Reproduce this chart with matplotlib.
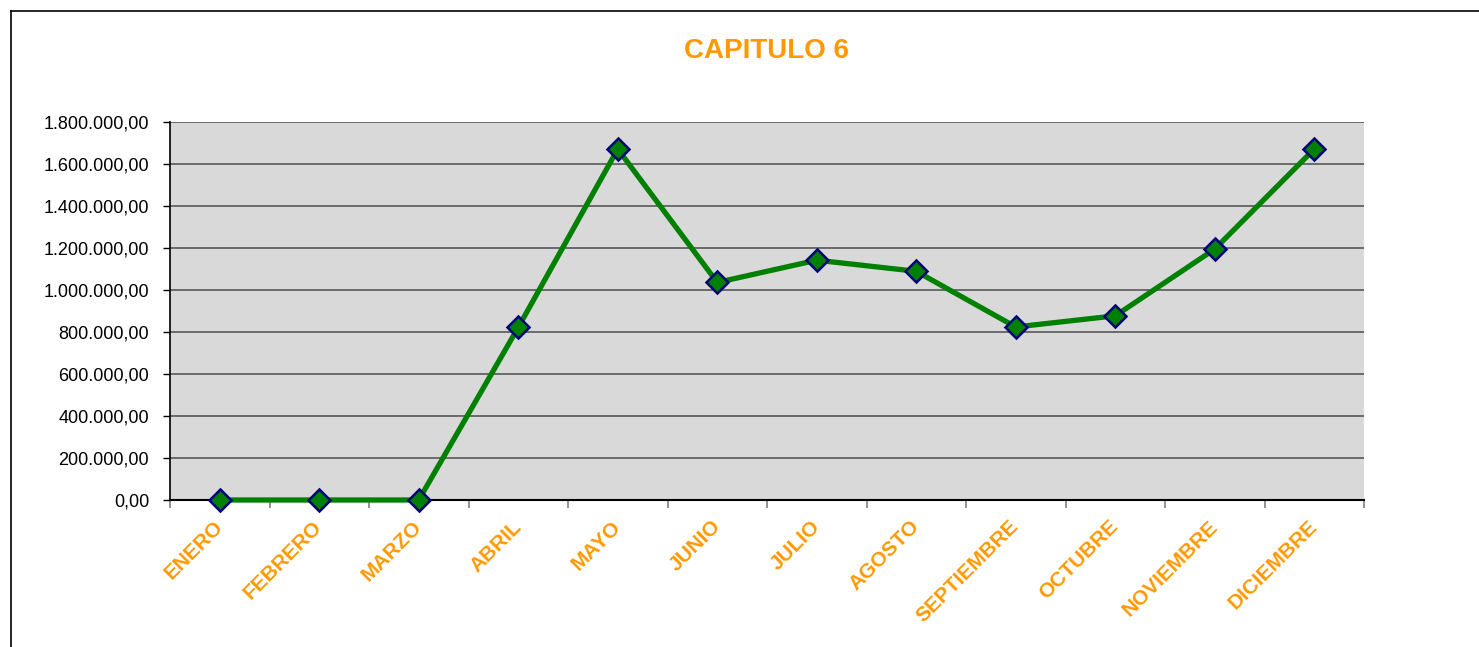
import matplotlib
matplotlib.use("Agg")
import matplotlib.pyplot as plt
from matplotlib.ticker import FuncFormatter, FixedLocator
from matplotlib.lines import Line2D

# ---- data ----
months = ["ENERO", "FEBRERO", "MARZO", "ABRIL", "MAYO", "JUNIO", "JULIO",
          "AGOSTO", "SEPTIEMBRE", "OCTUBRE", "NOVIEMBRE", "DICIEMBRE"]
values = [0, 0, 0, 822000, 1671000, 1036000, 1142000, 1089000,
          824000, 877000, 1195000, 1671000]
yticks = [0, 200000, 400000, 600000, 800000, 1000000, 1200000,
          1400000, 1600000, 1800000]
title = "CAPITULO 6"

plt.rcParams['font.family'] = ['Liberation Sans', 'DejaVu Sans']

W, H = 1479, 647
fig = plt.figure(figsize=(W / 100, H / 100), dpi=100)
fig.patch.set_facecolor("white")

ax = fig.add_axes([170 / W, 1 - 500 / H, (1364 - 170) / W, (500 - 122) / H])
ax.set_facecolor("#D9D9D9")

x = list(range(len(months)))
ax.plot(x, values, color="#008000", lw=3.8, marker="D", markersize=11,
        markerfacecolor="#008000", markeredgecolor="#000080",
        markeredgewidth=1.8, zorder=3, clip_on=False)

ax.set_xlim(-0.5, len(months) - 0.5)
ax.set_ylim(0, 1800000)

ax.yaxis.set_major_locator(FixedLocator(yticks))
def fmt(v, pos):
    s = f"{v:,.2f}"
    return s.replace(",", "X").replace(".", ",").replace("X", ".")
ax.yaxis.set_major_formatter(FuncFormatter(fmt))
ax.grid(axis="y", color="#4d4d4d", lw=1.1)
ax.set_axisbelow(True)

ax.set_xticks(x)
ax.set_xticklabels(months, rotation=45, ha="right", va="center",
                   rotation_mode="anchor", color="#FF9900",
                   fontweight="bold", fontsize=15)
ax.tick_params(axis="x", which="major", length=0, pad=17)
ax.set_xticks([i - 0.5 for i in range(len(months) + 1)], minor=True)
ax.tick_params(axis="x", which="minor", length=6, color="#808080", width=1.2,
               direction="out")
ax.tick_params(axis="y", length=5, width=1, direction="out", labelsize=13,
               pad=10, colors="black")

for side in ["top", "right"]:
    ax.spines[side].set_visible(False)
ax.spines["left"].set_color("black")
ax.spines["bottom"].set_color("black")
ax.spines["left"].set_linewidth(1.2)
ax.spines["bottom"].set_linewidth(1.5)

fig.text(767 / W, 1 - 51 / H, title, ha="center", va="center",
         color="#FF9900", fontweight="bold", fontsize=20)

# chart frame (left and top edges visible)
fig.add_artist(Line2D([10.5 / W, 10.5 / W], [0, 1 - 10.5 / H],
                      transform=fig.transFigure, color="black", lw=1.2))
fig.add_artist(Line2D([10.5 / W, 1], [1 - 10.5 / H, 1 - 10.5 / H],
                      transform=fig.transFigure, color="black", lw=1.2))

fig.savefig("out.png", dpi=100, facecolor="white")
